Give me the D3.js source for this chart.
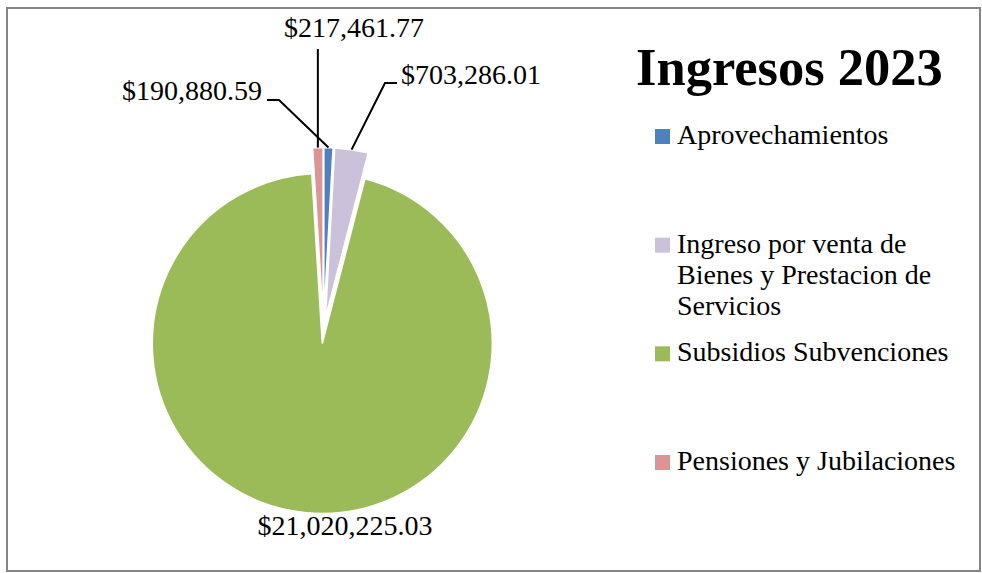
<!DOCTYPE html>
<html>
<head>
  <title>Ingresos 2023</title>
  <script src="https://d3js.org/d3.v7.min.js"></script>
  <style>
    body { margin: 0; background: #fff; }
    text { font-family: "Liberation Serif", "Times New Roman", serif; fill: #000; }
  </style>
</head>
<body>
  <div id="chart"></div>
  <script>
    // Chart data
    const categories = [
      "Aprovechamientos",
      "Ingreso por venta de Bienes y Prestacion de Servicios",
      "Subsidios Subvenciones",
      "Pensiones y Jubilaciones"
    ];
    const values = [190880.59, 703286.01, 21020225.03, 217461.77];
    const colors = ["#4F81BD", "#CCC1DA", "#9BBB59", "#D99694"];
    const title = "Ingresos 2023";

    const width = 982, height = 573;
    const cx = 323.5, cy = 330.5, radius = 170, explode = 13;

    const svg = d3.select("#chart")
      .append("svg")
      .attr("width", width)
      .attr("height", height);

    // chart border
    svg.append("rect")
      .attr("x", 7).attr("y", 8)
      .attr("width", 973).attr("height", 563)
      .attr("fill", "none")
      .attr("stroke", "#858585")
      .attr("stroke-width", 2);

    const pie = d3.pie().sort(null).value(d => d);
    const arcs = pie(values);
    const arc = d3.arc().innerRadius(0).outerRadius(radius);

    // offset of each exploded slice
    function shift(d) {
      const a = (d.startAngle + d.endAngle) / 2;
      return [explode * Math.sin(a), -explode * Math.cos(a)];
    }
    // point on the outer edge at the middle of the slice
    function anchor(d) {
      const a = (d.startAngle + d.endAngle) / 2;
      const s = shift(d);
      return [cx + s[0] + radius * Math.sin(a), cy + s[1] - radius * Math.cos(a)];
    }

    svg.append("g")
      .selectAll("path")
      .data(arcs)
      .enter()
      .append("path")
      .attr("transform", d => {
        const s = shift(d);
        return "translate(" + (cx + s[0]) + "," + (cy + s[1]) + ")";
      })
      .attr("d", arc)
      .attr("fill", (d, i) => colors[i])
      .attr("stroke", "#fff")
      .attr("stroke-width", 1.5);

    // data labels (positions picked to match the layout)
    const fmt = v => "$" + d3.format(",.2f")(v);
    const labelPos = [
      { x: 262, y: 100, anchor: "end", bend: [[267, 100], [279, 100]] },
      { x: 401, y: 84, anchor: "start", bend: [[397, 83], [385, 83]] },
      { x: 345, y: 535, anchor: "middle", bend: null },
      { x: 354, y: 37, anchor: "middle", bend: "vertical" }
    ];

    const labels = svg.append("g");
    arcs.forEach((d, i) => {
      const p = labelPos[i];
      const a = anchor(d);
      let pts = null;
      if (Array.isArray(p.bend)) pts = p.bend.concat([a]);
      else if (p.bend === "vertical") pts = [[a[0], 49], a];
      if (pts) {
        labels.append("path")
          .attr("d", d3.line()(pts))
          .attr("fill", "none")
          .attr("stroke", "#000")
          .attr("stroke-width", 2);
      }
      labels.append("text")
        .attr("x", p.x)
        .attr("y", p.y)
        .attr("text-anchor", p.anchor)
        .style("font-size", "28px")
        .text(fmt(values[i]));
    });

    // title
    svg.append("text")
      .attr("x", 636)
      .attr("y", 85)
      .style("font-size", "52.5px")
      .style("font-weight", "bold")
      .text(title);

    // legend
    const legendY = d3.scalePoint().domain(categories).range([144, 470]);
    const legend = svg.append("g");
    const maxW = 285;
    categories.forEach((c, i) => {
      const y = legendY(c);
      legend.append("rect")
        .attr("x", 655).attr("y", y - 15)
        .attr("width", 15).attr("height", 15)
        .attr("fill", colors[i]);
      const t = legend.append("text")
        .attr("x", 677)
        .attr("y", y)
        .style("font-size", "28px");
      // simple word wrap
      const words = c.split(" ");
      let line = [];
      let lineNo = 0;
      let tspan = t.append("tspan").attr("x", 677).attr("y", y);
      words.forEach(w => {
        line.push(w);
        tspan.text(line.join(" "));
        if (tspan.node().getComputedTextLength() > maxW && line.length > 1) {
          line.pop();
          tspan.text(line.join(" "));
          line = [w];
          lineNo++;
          tspan = t.append("tspan").attr("x", 677).attr("y", y + lineNo * 31).text(w);
        }
      });
    });
  </script>
</body>
</html>
